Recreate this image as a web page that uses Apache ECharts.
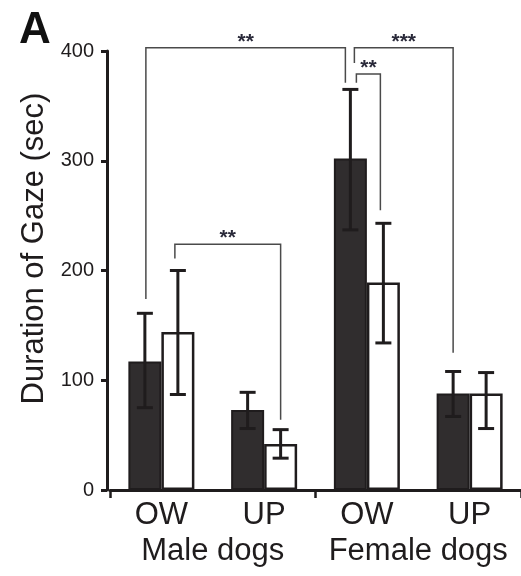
<!DOCTYPE html>
<html>
<head>
<meta charset="utf-8">
<script src="https://cdn.jsdelivr.net/npm/echarts@6/dist/echarts.min.js"></script>
<style>
  html, body { margin: 0; padding: 0; background: #fff; }
  #chart { width: 521px; height: 576px; }
</style>
</head>
<body>
<div id="chart"></div>
<script>
// ---- data ----
var categories = ['OW', 'UP', 'OW', 'UP'];
var groups = ['Male dogs', 'Female dogs'];

// filled (dark) and open (white) bars, seconds
var filledValues = [117, 73, 302, 88];
var openValues = [144, 42, 189, 88];

// error bar ends
var filledLow = [75, 56, 237, 67];
var filledHigh = [161, 89, 365, 108];
var openLow = [87, 29, 134, 56];
var openHigh = [200, 55, 243, 107];

// significance brackets: [category, bar (0 filled, 1 open)]
var bracketFrom = [[0, 0], [2, 0], [2, 0], [0, 1]];
var bracketTo = [[2, 0], [3, 0], [2, 1], [1, 1]];
var bracketTop = [403, 403, 379, 224];
var bracketFromEnd = [174, 389, 371, 211];
var bracketToEnd = [371, 125, 255, 64];
var bracketLabels = ['**', '***', '**', '**'];

// ---- styling ----
var BAR_W = 33;
var INK = '#1f1c1d';
var FONT = 'Liberation Sans, Arial, sans-serif';
var legNudgeFrom = [1, 4, 6, -3];
var legNudgeTo = [-5, 0, -3, 0];

var chart = echarts.init(document.getElementById('chart'));

function renderError(params, api) {
  var side = api.value(3) ? 1 : -1;
  var x = api.coord([api.value(0), 0])[0] + side * BAR_W / 2;
  var yLow = api.coord([0, api.value(1)])[1];
  var yHigh = api.coord([0, api.value(2)])[1];
  var cap = 8;
  var st = { stroke: INK, lineWidth: 3 };
  return {
    type: 'group',
    children: [
      { type: 'line', shape: { x1: x, y1: yLow, x2: x, y2: yHigh }, style: st },
      { type: 'line', shape: { x1: x - cap, y1: yHigh, x2: x + cap, y2: yHigh }, style: st },
      { type: 'line', shape: { x1: x - cap, y1: yLow, x2: x + cap, y2: yLow }, style: st }
    ]
  };
}

function renderBracket(params, api) {
  var i = params.dataIndex;
  function legX(cat, side, nudge) {
    return api.coord([cat, 0])[0] + (side ? 1 : -1) * BAR_W / 2 + nudge;
  }
  var x1 = legX(api.value(0), api.value(1), legNudgeFrom[i]);
  var x2 = legX(api.value(2), api.value(3), legNudgeTo[i]);
  var yTop = api.coord([0, api.value(4)])[1];
  var y1 = api.coord([0, api.value(5)])[1];
  var y2 = api.coord([0, api.value(6)])[1];
  return {
    type: 'group',
    children: [
      {
        type: 'polyline',
        shape: { points: [[x1, y1], [x1, yTop], [x2, yTop], [x2, y2]] },
        style: { stroke: '#4a4a4a', lineWidth: 1.5, fill: null }
      },
      {
        type: 'text',
        style: {
          text: bracketLabels[i], x: (x1 + x2) / 2, y: yTop - 6,
          align: 'center', verticalAlign: 'middle',
          fill: '#2a2a3a', font: 'bold 21px ' + FONT
        }
      }
    ]
  };
}

var errorData = [];
categories.forEach(function (c, i) {
  errorData.push([i, filledLow[i], filledHigh[i], 0]);
  errorData.push([i, openLow[i], openHigh[i], 1]);
});

var bracketData = bracketFrom.map(function (f, i) {
  return [f[0], f[1], bracketTo[i][0], bracketTo[i][1], bracketTop[i], bracketFromEnd[i], bracketToEnd[i]];
});

var option = {
  animation: false,
  title: {
    text: 'A', left: 14, top: 4,
    textStyle: { fontFamily: FONT, fontWeight: 'bold', fontSize: 44, color: '#111' }
  },
  grid: { left: 110, right: -3, top: 51, bottom: 86 },
  xAxis: [
    {
      type: 'category',
      data: categories,
      axisLine: { lineStyle: { color: INK, width: 3 } },
      axisTick: { show: false },
      axisLabel: { fontFamily: FONT, fontSize: 31, color: INK, margin: 10, interval: 0 }
    },
    {
      type: 'category',
      position: 'bottom',
      data: groups,
      axisLine: { show: false },
      axisTick: { show: true, interval: 0, length: 8, lineStyle: { color: INK, width: 2.5 } },
      axisLabel: { fontFamily: FONT, fontSize: 31, color: INK, margin: 46, interval: 0 }
    }
  ],
  yAxis: {
    type: 'value',
    min: 0, max: 400, interval: 100,
    offset: 3,
    splitLine: { show: false },
    axisLine: { show: true, lineStyle: { color: INK, width: 3 } },
    axisTick: { show: true, length: 6, lineStyle: { color: INK, width: 3 } },
    axisLabel: { fontFamily: FONT, fontSize: 20, color: INK, margin: 13 },
    name: 'Duration of Gaze (sec)',
    nameLocation: 'middle',
    nameRotate: 90,
    nameGap: 56,
    nameTextStyle: { fontFamily: FONT, fontSize: 31, color: INK, padding: [0, 0, 0, 44] }
  },
  series: [
    {
      name: 'filled', type: 'bar', data: filledValues,
      barWidth: BAR_W, barGap: '0%',
      itemStyle: { color: '#302d2e', borderColor: INK, borderWidth: 2 }
    },
    {
      name: 'open', type: 'bar', data: openValues,
      barWidth: BAR_W, barGap: '0%',
      itemStyle: { color: '#fff', borderColor: INK, borderWidth: 2.5 }
    },
    {
      type: 'custom', data: errorData, renderItem: renderError, z: 5
    },
    {
      type: 'custom', data: bracketData, renderItem: renderBracket, z: 6, clip: false
    }
  ]
};

chart.setOption(option);
</script>
</body>
</html>
